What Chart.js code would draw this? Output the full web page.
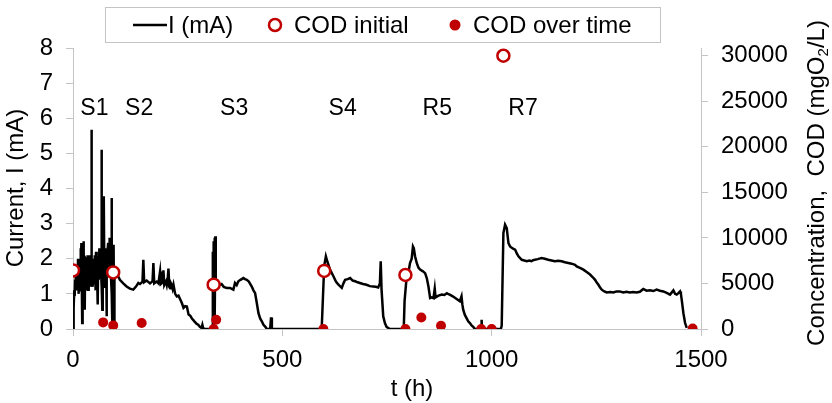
<!DOCTYPE html>
<html>
<head>
<meta charset="utf-8">
<script src="https://cdn.jsdelivr.net/npm/chart.js@4.4.1/dist/chart.umd.min.js"></script>
<style>
  html, body { margin: 0; padding: 0; background: #fff; }
  #wrap { width: 832px; height: 403px; position: relative; }
</style>
</head>
<body>
<div id="wrap"><canvas id="codChart"></canvas></div>
<script>
// --- data ---
const tHours = [
  0, 1, 2, 3, 4, 5, 6, 7, 8, 9, 10, 11, 12, 13, 14, 15, 16, 17, 18, 19,
  20, 21, 22, 23, 24, 25, 26, 27, 28, 29, 30, 31, 32, 33, 34, 35, 36, 37, 38, 39,
  40, 41, 42, 43, 44, 45, 46, 47, 48, 49, 50, 51, 52, 53, 54, 55, 56, 57, 58, 59,
  60, 61, 62, 63, 64, 65, 66, 67, 68, 69, 70, 71, 72, 73, 74, 75, 76, 77, 78, 79,
  80, 81, 82, 83, 84, 85, 86, 87, 88, 89, 90, 91, 92, 93, 94, 95, 96, 97, 98, 99,
  103, 108, 112, 120, 128, 136, 144, 150, 156, 160, 166, 168, 170, 176,
  184, 190, 192, 194, 200, 204, 208, 210, 212, 214, 216, 218, 222, 224, 226, 228, 230, 232, 234, 236,
  238, 240, 244, 248, 252, 256, 260, 264, 268, 272, 276, 280, 284, 287, 291, 295, 299, 303, 307, 309,
  311, 315, 331, 333, 334, 335, 336, 337, 338, 339, 340, 341, 343, 350, 355, 360, 367, 375, 383, 387, 391, 395,
  400, 407, 411, 415, 420, 427, 431, 435, 439, 443, 447, 451, 455, 459, 463, 471, 473, 475, 594, 600,
  604, 608, 614, 622, 628, 634, 642, 646, 650, 656, 662, 668, 674, 680, 685, 693, 701, 709, 717, 723,
  729, 733, 735, 737, 741, 745, 749, 753, 757, 790, 792, 797, 801, 805, 809, 812, 814, 817, 821, 825,
  829, 835, 841, 845, 849, 853, 857, 861, 864, 866, 873, 881, 887, 893, 897, 901, 907, 913, 919, 924,
  928, 930, 932, 936, 940, 944, 948, 952, 956, 960, 975, 976, 977, 1022, 1024, 1028, 1032, 1036, 1040, 1044,
  1048, 1052, 1056, 1060, 1064, 1068, 1072, 1078, 1084, 1090, 1095, 1099, 1103, 1110, 1119, 1127, 1135, 1143, 1151, 1159,
  1167, 1175, 1183, 1191, 1199, 1203, 1211, 1219, 1227, 1235, 1241, 1247, 1251, 1255, 1259, 1263, 1269, 1275, 1283, 1291,
  1298, 1306, 1314, 1322, 1330, 1338, 1346, 1354, 1362, 1370, 1378, 1386, 1394, 1402, 1410, 1418, 1426, 1434, 1438, 1442,
  1446, 1450, 1452, 1454, 1458, 1462, 1466
];
const currentMA = [
  0, 0.3, 0.6, 1.1, 0.93, 1.4, 1.2, 1.6, 1.5, 1.1, 1.7, 1.3, 2.0, 1.0, 1.8, 1.3, 1.78, 1.1, 2.3, 1.5,
  2.45, 1.3, 0.17, 1.5, 2.3, 2.5, 1.4, 1.0, 0.55, 1.8, 1.3, 2.0, 1.97, 1.1, 1.6, 2.1, 1.12, 1.9, 1.4, 2.1,
  1.6, 1.9, 1.2, 2.0, 5.67, 1.5, 1.69, 1.2, 1.9, 1.4, 2.0, 1.3, 2.1, 1.7, 1.1, 2.2, 1.5, 2.1, 1.3, 0.7,
  1.9, 1.97, 1.4, 2.3, 2.2, 1.5, 2.2, 1.6, 5.1, 1.2, 0.55, 1.6, 2.0, 1.4, 3.78, 1.2, 2.16, 1.6, 1.4, 2.3,
  0.36, 1.5, 1.8, 2.3, 2.45, 1.6, 2.2, 1.7, 2.6, 1.8, 2.5, 1.4, 3.73, 1.0, 0.07, 2.0, 0.1, 2.4, 0.2, 1.59,
  1.52, 1.5, 1.4, 1.3, 1.21, 1.15, 1.12, 1.2, 1.31, 1.28, 1.35, 1.97, 1.33, 1.38,
  1.3, 1.36, 1.88, 1.3, 1.35, 1.3, 1.64, 1.28, 1.3, 1.35, 1.67, 1.25, 1.35, 1.25, 1.4, 1.72, 1.2, 1.16, 1.3, 1.25,
  1.15, 1.26, 1.0, 0.93, 0.95, 0.85, 0.74, 0.6, 0.65, 0.64, 0.41, 0.38, 0.3, 0.26, 0.2, 0.15, 0.12, 0.06, 0.03, 0.12,
  0.02, 0, 0, 0, 2.2, 0.1, 2.5, 0.2, 2.6, 0.3, 2.64, 1.2, 1.31, 1.25, 1.28, 1.2, 1.17, 1.17, 1.12, 1.31, 1.25, 1.36,
  1.4, 1.45, 1.42, 1.4, 1.35, 1.21, 1.1, 1.02, 0.74, 0.45, 0.3, 0.22, 0.12, 0.07, 0, 0, 0.33, 0, 0, 1.8,
  2.07, 1.9, 1.69, 1.5, 1.35, 1.26, 1.17, 1.3, 1.4, 1.42, 1.45, 1.38, 1.36, 1.33, 1.31, 1.28, 1.26, 1.22, 1.21, 1.2,
  1.18, 1.3, 1.93, 1.12, 0.36, 0.17, 0.06, 0.03, 0, 0, 0.8, 1.5, 1.6, 1.88, 2.0, 2.35, 2.3, 2.07, 1.88, 1.75,
  1.69, 1.65, 1.59, 1.45, 1.21, 0.88, 0.9, 0.88, 1.15, 0.9, 0.95, 0.98, 0.97, 1.02, 0.99, 0.97, 0.93, 0.88, 0.83, 0.79,
  0.93, 0.7, 0.55, 0.4, 0.31, 0.22, 0.17, 0.1, 0.06, 0, 0, 0.26, 0, 0, 0.1, 2.73, 2.97, 2.87, 2.45, 2.35,
  2.31, 2.28, 2.26, 2.15, 2.07, 2.02, 1.97, 1.95, 1.93, 1.95, 1.93, 1.96, 1.97, 1.99, 2.02, 2.0, 1.97, 1.95, 1.93, 1.94,
  1.93, 1.9, 1.88, 1.86, 1.83, 1.78, 1.74, 1.69, 1.62, 1.55, 1.48, 1.4, 1.32, 1.26, 1.18, 1.12, 1.07, 1.04, 1.05, 1.04,
  1.07, 1.07, 1.04, 1.06, 1.04, 1.05, 1.04, 1.06, 1.14, 1.09, 1.1, 1.08, 1.12, 1.09, 1.07, 1.03, 0.98, 1.1, 1.0, 0.98,
  1.02, 1.07, 1.0, 0.83, 0.45, 0.17, 0.03
];

const codInitialT = [0, 96, 336, 600, 794, 1028];
const codInitial = [6430, 6210, 4860, 6370, 5930, 30000];

const codOverTimeT = [72, 96, 164, 336, 342, 598, 794, 832, 879, 975, 1000, 1480];
const codOverTime = [725, 395, 660, 0, 1020, 0, 0, 1270, 360, 0, 0, 50];

const stageNames = ['S1', 'S2', 'S3', 'S4', 'R5', 'R7'];
const stageT = [51, 158, 385, 644, 870, 1075];
const stageLevel = 6.27;

const xTicks = [0, 500, 1000, 1500];
const leftTicks = [0, 1, 2, 3, 4, 5, 6, 7, 8];
const rightTicks = [0, 5000, 10000, 15000, 20000, 25000, 30000];
const rightMax = 30850;

const RED = '#c00000';
const AXIS = '#c4c4c4';
const FONT = "'Liberation Sans', Arial, sans-serif";

Chart.defaults.font.family = FONT;
Chart.defaults.font.size = 24;
Chart.defaults.color = '#000';

const toPoints = (xs, ys) => xs.map((x, i) => ({ x: x, y: ys[i] }));
const fixedTicks = list => scale => { scale.ticks = list.map(v => ({ value: v })); };

// annotations, legend and axis titles drawn straight onto the canvas
const overlay = {
  id: 'overlay',
  afterDatasetsDraw(chart) {
    const ctx = chart.ctx;
    const xs = chart.scales.x, ys = chart.scales.y;
    ctx.save();
    ctx.fillStyle = '#000';
    ctx.font = '23px ' + FONT;
    ctx.textAlign = 'center';
    ctx.textBaseline = 'middle';
    stageNames.forEach((name, i) => {
      ctx.fillText(name, xs.getPixelForValue(stageT[i]), ys.getPixelForValue(stageLevel));
    });
    ctx.restore();
  },
  afterDraw(chart) {
    const ctx = chart.ctx;
    ctx.save();

    // legend box
    ctx.strokeStyle = AXIS;
    ctx.lineWidth = 1;
    ctx.strokeRect(105.5, 7.5, 555, 35);
    ctx.font = '24px ' + FONT;
    ctx.textBaseline = 'middle';
    ctx.textAlign = 'left';
    ctx.fillStyle = '#000';
    ctx.strokeStyle = '#000';
    ctx.lineWidth = 2.5;
    ctx.beginPath();
    ctx.moveTo(133, 25);
    ctx.lineTo(167, 25);
    ctx.stroke();
    ctx.fillText('I (mA)', 168, 26);

    ctx.beginPath();
    ctx.arc(275, 25, 6, 0, Math.PI * 2);
    ctx.fillStyle = '#fff';
    ctx.fill();
    ctx.strokeStyle = RED;
    ctx.lineWidth = 2.5;
    ctx.stroke();
    ctx.fillStyle = '#000';
    ctx.fillText('COD initial', 294, 26);

    ctx.beginPath();
    ctx.arc(455, 25, 5.5, 0, Math.PI * 2);
    ctx.fillStyle = RED;
    ctx.fill();
    ctx.fillStyle = '#000';
    ctx.fillText('COD over time', 473, 26);

    // x title
    ctx.textAlign = 'center';
    ctx.fillText('t (h)', 412, 389);

    // left title
    ctx.save();
    ctx.translate(16, 188);
    ctx.rotate(-Math.PI / 2);
    ctx.fillText('Current, I (mA)', 0, 0);
    ctx.restore();

    // right title with subscript
    ctx.save();
    ctx.translate(817, 183);
    ctx.rotate(-Math.PI / 2);
    const big = '24px ' + FONT, small = '15px ' + FONT;
    const p1 = 'Concentration,  COD (mgO', p2 = '2', p3 = '/L)';
    ctx.font = big;
    const w1 = ctx.measureText(p1).width, w3 = ctx.measureText(p3).width;
    ctx.font = small;
    const w2 = ctx.measureText(p2).width;
    const x0 = -(w1 + w2 + w3) / 2;
    ctx.textAlign = 'left';
    ctx.font = big;
    ctx.fillText(p1, x0, 0);
    ctx.font = small;
    ctx.fillText(p2, x0 + w1, 7);
    ctx.font = big;
    ctx.fillText(p3, x0 + w1 + w2, 0);
    ctx.restore();

    ctx.restore();
  }
};

const ctx = document.getElementById('codChart').getContext('2d');
new Chart(ctx, {
  type: 'scatter',
  data: {
    datasets: [
      {
        label: 'I (mA)',
        data: toPoints(tHours, currentMA),
        showLine: true,
        borderColor: '#000',
        borderWidth: 2.5,
        pointRadius: 0,
        tension: 0,
        yAxisID: 'y',
        order: 3
      },
      {
        label: 'COD initial',
        data: toPoints(codInitialT, codInitial),
        pointRadius: 6,
        pointBorderWidth: 2.5,
        pointBorderColor: RED,
        pointBackgroundColor: '#fff',
        yAxisID: 'y2',
        order: 2
      },
      {
        label: 'COD over time',
        data: toPoints(codOverTimeT, codOverTime),
        pointRadius: 5,
        pointBorderWidth: 0,
        pointBackgroundColor: RED,
        pointBorderColor: RED,
        yAxisID: 'y2',
        order: 1
      }
    ]
  },
  options: {
    responsive: true,
    maintainAspectRatio: false,
    animation: false,
    devicePixelRatio: 1,
    layout: { padding: { top: 48, left: 0, right: 0, bottom: 0 } },
    plugins: { legend: { display: false }, tooltip: { enabled: false } },
    scales: {
      x: {
        type: 'linear', min: 0, max: 1500,
        afterBuildTicks: fixedTicks(xTicks),
        ticks: { padding: 10, callback: v => String(v) },
        grid: { drawOnChartArea: false, color: AXIS, tickLength: 7 },
        border: { color: AXIS },
        afterFit: s => { s.height = 74; }
      },
      y: {
        type: 'linear', position: 'left', min: 0, max: 8,
        afterBuildTicks: fixedTicks(leftTicks),
        ticks: { padding: 13, callback: v => String(v) },
        grid: { drawOnChartArea: false, color: AXIS, tickLength: 7 },
        border: { color: AXIS },
        afterFit: s => { s.width = 73; }
      },
      y2: {
        type: 'linear', position: 'right', min: 0, max: rightMax,
        afterBuildTicks: fixedTicks(rightTicks),
        ticks: { padding: 13, callback: v => String(v) },
        grid: { drawOnChartArea: false, color: AXIS, tickLength: 7 },
        border: { color: AXIS },
        afterFit: s => { s.width = 131; }
      }
    }
  },
  plugins: [overlay]
});
</script>
</body>
</html>
